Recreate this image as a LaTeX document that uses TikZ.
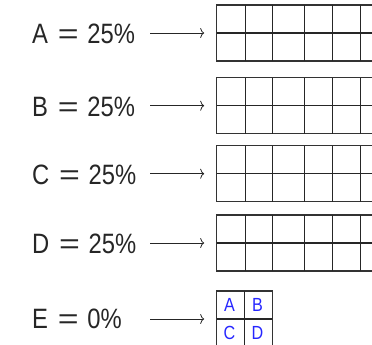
\documentclass[tikz,border=0pt]{standalone}
\usepackage{fontspec}
\setmainfont{Liberation Sans}
\usetikzlibrary{arrows.meta,positioning}

% narrow label text
\newcommand{\sharetext}[2]{\scalebox{0.85}[1]{#1\hspace{0.42em}\scalebox{1.5}[1]{=}\hspace{0.36em}#2\%}}
\newcommand{\narrowtext}[1]{\scalebox{0.85}[1]{#1}}

\begin{document}
\begin{tikzpicture}[
  x=1pt,
  y=-1pt,
  share/.style={
    anchor=west,
    font=\fontsize{28}{30}\selectfont,
    text=black!85,
    inner sep=0pt,
    outer sep=0pt
  },
  rowbox/.style={
    draw=black!80,
    line width=1.2pt,
    minimum width=170pt,
    minimum height=56pt,
    anchor=north west,
    inner sep=0pt,
    outer sep=0pt
  },
  quadbox/.style={rowbox, minimum width=55.6pt},
  cellline/.style={draw=black!85, line width=1.2pt},
  cellfont/.style={
    font=\fontsize{19}{20}\selectfont,
    text=blue!85!white,
    inner sep=0pt
  },
  ptr/.style={
    line width=0.8pt,
    black!85,
    shorten >=12.5pt,
    -{To[length=4pt,width=10pt]}
  }
]

\useasboundingbox (0,0) rectangle (372,345);
\clip (0,0) rectangle (372,345);

% four full rows
\foreach \name/\txt/\yy in {a/A/5, b/B/77.7, c/C/145.7, d/D/215} {
  \node[share] (\name lbl) at (32,\yy+29) {\sharetext{\txt}{25}};
  \node[rowbox] (\name box) at (216.7,\yy) {};
  \coordinate (\name tail) at (150,\yy+28);
  \draw[cellline] (\name box.west) -- (\name box.east);
  \foreach \cx in {245.3,272.3,304.3,332.7,360.5}
    \draw[cellline] (\cx,\yy) -- (\cx,\yy+56);
  \draw[ptr] (\name tail) -- (\name box.west);
}

% empty share
\node[share] (elbl) at (32,319) {\sharetext{E}{0}};
\node[quadbox] (ebox) at (216.7,291) {};
\coordinate (etail) at (150,319);
\draw[cellline] (ebox.west) -- (ebox.east);
\draw[cellline] (ebox.north) -- (ebox.south);
\draw[ptr] (etail) -- (ebox.west);

\node[cellfont] (ea) at (229.5,305) {\narrowtext{A}};
\node[cellfont] (eb) at (257.5,305) {\narrowtext{B}};
\node[cellfont] (ec) at (229.5,333) {\narrowtext{C}};
\node[cellfont] (ed) at (257.5,333) {\narrowtext{D}};

\end{tikzpicture}
\end{document}
